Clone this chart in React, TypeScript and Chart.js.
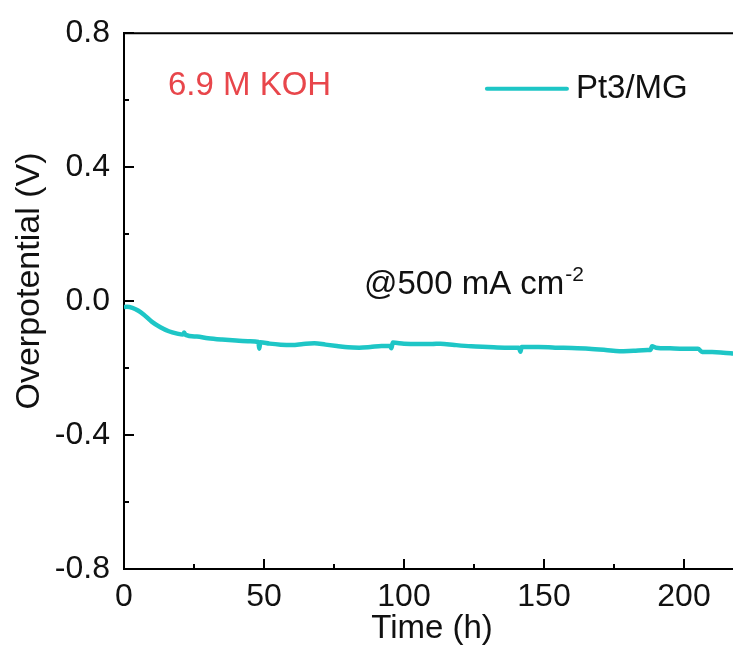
import React, { useEffect, useRef } from "react";
import { Chart, registerables } from "chart.js";

Chart.register(...registerables);

const timeH = [0, 1, 3, 5, 7, 10, 13, 16, 19, 21, 21.5, 22, 26, 30, 35, 40, 45, 48, 48.3, 48.7, 52, 56, 60, 64, 68, 72, 76, 80, 84, 88, 92, 95, 95.5, 96, 100, 105, 110, 113, 118, 124, 130, 136, 141, 141.6, 142, 148, 154, 160, 166, 172, 177, 182, 187, 188, 188.6, 190, 195, 200, 205, 206.5, 210, 214, 218];
const overpotential = [-0.018, -0.017, -0.02, -0.028, -0.04, -0.062, -0.078, -0.09, -0.097, -0.1, -0.094, -0.101, -0.106, -0.111, -0.115, -0.118, -0.12, -0.122, -0.142, -0.123, -0.127, -0.13, -0.131, -0.128, -0.126, -0.13, -0.134, -0.138, -0.139, -0.137, -0.134, -0.134, -0.141, -0.124, -0.127, -0.128, -0.128, -0.127, -0.131, -0.135, -0.137, -0.139, -0.139, -0.151, -0.137, -0.137, -0.139, -0.14, -0.142, -0.146, -0.15, -0.148, -0.146, -0.146, -0.135, -0.139, -0.141, -0.142, -0.142, -0.152, -0.152, -0.154, -0.157];

const xMajorTicks = [0, 50, 100, 150, 200];
const xMinorTicks = [25, 75, 125, 175];
const yMajorTicks = [-0.8, -0.4, 0, 0.4, 0.8];
const yMinorTicks = [-0.6, -0.2, 0.2, 0.6];

const seriesLabel = "Pt3/MG";
const electrolyteLabel = "6.9 M KOH";
const currentLabel = "@500 mA cm";
const currentSup = "-2";
const xTitle = "Time (h)";
const yTitle = "Overpotential (V)";

const FONT = "'Liberation Sans', Arial, sans-serif";
const LINE_COLOR = "#1ec6c6";
const RED = "#e8464b";
const TEXT = "#111";

const decorPlugin = {
  id: "decor",
  afterDatasetsDraw(chart: any) {
    const { ctx, chartArea, scales } = chart;
    const xs = scales.x;
    const ys = scales.y;
    ctx.save();
    ctx.strokeStyle = "#000";
    ctx.lineWidth = 2;
    ctx.lineCap = "butt";
    // top border
    ctx.beginPath();
    ctx.moveTo(chartArea.left - 1, chartArea.top);
    ctx.lineTo(chartArea.right, chartArea.top);
    ctx.stroke();
    // inward ticks
    const drawX = (v: number, len: number) => {
      const px = Math.round(xs.getPixelForValue(v));
      ctx.beginPath();
      ctx.moveTo(px, chartArea.bottom);
      ctx.lineTo(px, chartArea.bottom - len);
      ctx.stroke();
    };
    const drawY = (v: number, len: number) => {
      const py = Math.round(ys.getPixelForValue(v));
      ctx.beginPath();
      ctx.moveTo(chartArea.left, py);
      ctx.lineTo(chartArea.left + len, py);
      ctx.stroke();
    };
    xMajorTicks.forEach((v) => drawX(v, 10));
    xMinorTicks.forEach((v) => drawX(v, 5));
    yMajorTicks.forEach((v) => drawY(v, 10));
    yMinorTicks.forEach((v) => drawY(v, 5));

    // axis titles
    ctx.fillStyle = TEXT;
    ctx.font = `33px ${FONT}`;
    ctx.textAlign = "center";
    ctx.textBaseline = "alphabetic";
    ctx.fillText(xTitle, 432, 638);
    ctx.save();
    ctx.translate(30, 281);
    ctx.rotate(-Math.PI / 2);
    ctx.textBaseline = "middle";
    ctx.font = `34px ${FONT}`;
    ctx.fillText(yTitle, 0, 0);
    ctx.restore();

    // legend
    const ly = ys.getPixelForValue(0.634);
    ctx.strokeStyle = LINE_COLOR;
    ctx.lineWidth = 4;
    ctx.lineCap = "round";
    ctx.beginPath();
    ctx.moveTo(xs.getPixelForValue(129.6), ly);
    ctx.lineTo(xs.getPixelForValue(158.2), ly);
    ctx.stroke();
    ctx.fillStyle = TEXT;
    ctx.font = `33px ${FONT}`;
    ctx.textBaseline = "middle";
    ctx.textAlign = "left";
    ctx.fillText(seriesLabel, xs.getPixelForValue(161.4), ly);

    // electrolyte label
    ctx.fillStyle = RED;
    ctx.fillText(electrolyteLabel, xs.getPixelForValue(15.7), ys.getPixelForValue(0.643));

    // current density label
    ctx.fillStyle = TEXT;
    ctx.textBaseline = "alphabetic";
    const cx = xs.getPixelForValue(85.7);
    const cy = ys.getPixelForValue(0.0207);
    ctx.fillText(currentLabel, cx, cy);
    const w = ctx.measureText(currentLabel).width;
    ctx.font = `21px ${FONT}`;
    ctx.fillText(currentSup, cx + w + 1, cy - 13);
    ctx.restore();
  },
};

export default function App() {
  const ref = useRef<HTMLCanvasElement>(null);
  useEffect(() => {
    if (!ref.current) return;
    const chart = new Chart(ref.current, {
      type: "line",
      data: {
        datasets: [
          {
            label: seriesLabel,
            data: timeH.map((t, i) => ({ x: t, y: overpotential[i] })),
            borderColor: LINE_COLOR,
            borderWidth: 4.5,
            pointRadius: 0,
            cubicInterpolationMode: "monotone",
            fill: false,
          },
        ],
      },
      options: {
        animation: false,
        responsive: false,
        devicePixelRatio: 1,
        layout: { padding: { top: 29, right: 0, left: 0, bottom: 0 } },
        plugins: { legend: { display: false }, tooltip: { enabled: false } },
        scales: {
          x: {
            type: "linear",
            min: 0,
            max: 217.5,
            afterBuildTicks: (s: any) => {
              s.ticks = xMajorTicks.map((v) => ({ value: v }));
            },
            afterFit: (s: any) => {
              s.height = 81;
            },
            grid: { display: false, drawTicks: false },
            border: { display: true, color: "#000", width: 2 },
            ticks: {
              color: TEXT,
              font: { family: FONT, size: 32 },
              padding: 9,
              maxRotation: 0,
              callback: (v: any) => String(v),
            },
            title: { display: false },
          },
          y: {
            min: -0.8,
            max: 0.8,
            afterBuildTicks: (s: any) => {
              s.ticks = yMajorTicks.map((v) => ({ value: v }));
            },
            afterFit: (s: any) => {
              s.width = 124;
            },
            grid: { display: false, drawTicks: false },
            border: { display: true, color: "#000", width: 2 },
            ticks: {
              color: TEXT,
              font: { family: FONT, size: 32 },
              padding: 14,
              callback: (v: any) => (Math.abs(v) < 1e-9 ? "0.0" : Number(v).toFixed(1)),
            },
            title: { display: false },
          },
        },
      },
      plugins: [decorPlugin],
    });
    return () => chart.destroy();
  }, []);
  return (
    <div style={{ position: "absolute", left: 0, top: 0, width: 733, height: 650, background: "#fff" }}>
      <canvas ref={ref} width={733} height={650} />
    </div>
  );
}
